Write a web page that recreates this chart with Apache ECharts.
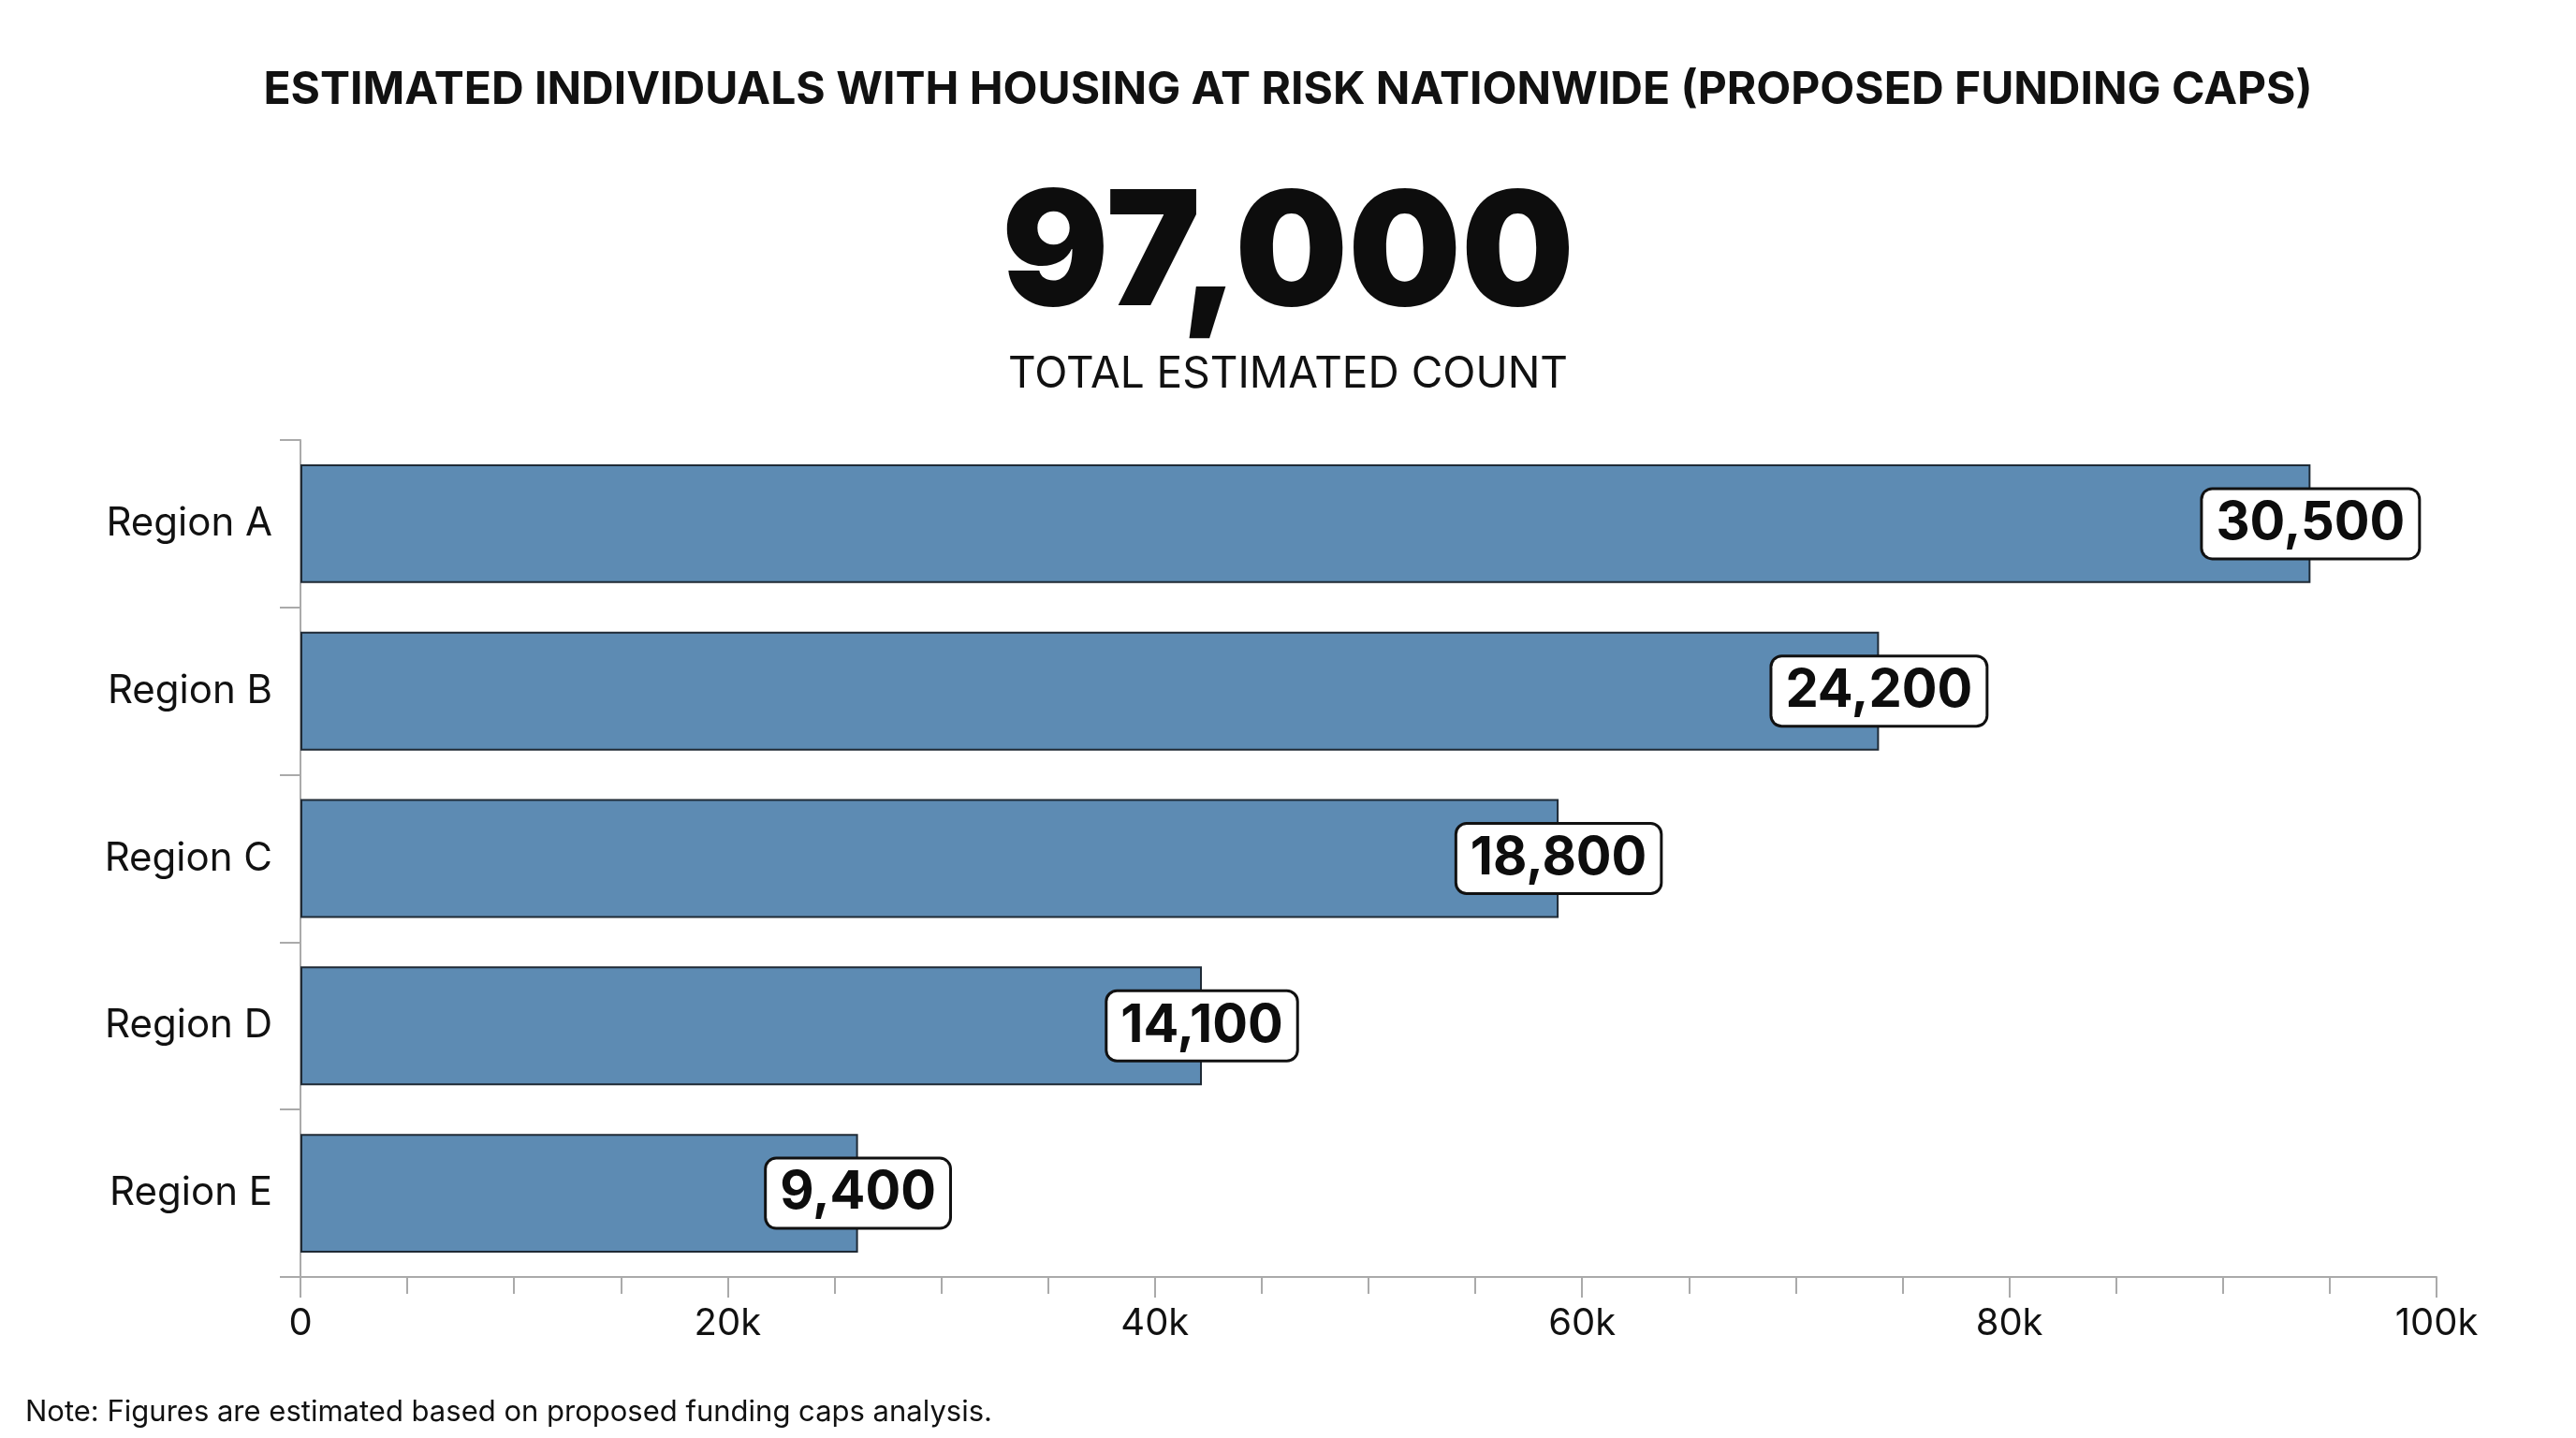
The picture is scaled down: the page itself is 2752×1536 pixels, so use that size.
<!DOCTYPE html>
<html><head><meta charset="utf-8">
<script src="https://cdn.jsdelivr.net/npm/echarts@6/dist/echarts.min.js"></script>
<style>html,body{margin:0;padding:0;background:#fff}#c{width:2752px;height:1536px}</style>
</head><body><div id="c"></div>
<script>
const categories = ['Region A','Region B','Region C','Region D','Region E'];
const barValues = [94100, 73900, 58900, 42200, 26100];
const labelValues = [30500, 24200, 18800, 14100, 9400];
const xTicks = [0, 20000, 40000, 60000, 80000, 100000];
const total = 97000;
const F = 'Inter, "Noto Sans", sans-serif';
const chart = echarts.init(document.getElementById('c'));
chart.setOption({
  backgroundColor: '#ffffff',
  animation: false,
  title: [
    {text: 'ESTIMATED INDIVIDUALS WITH HOUSING AT RISK NATIONWIDE (PROPOSED FUNDING CAPS)', left: 'center', top: 68,
     textStyle: {fontFamily: F, fontSize: 48, fontWeight: 'bold', color: '#111'}},
    {text: total.toLocaleString('en-US'), left: 'center', top: 185,
     textStyle: {fontFamily: F, fontSize: 170, fontWeight: 900, color: '#0d0d0d'}},
    {text: 'TOTAL ESTIMATED COUNT', left: 'center', top: 372,
     textStyle: {fontFamily: F, fontSize: 46, fontWeight: 'normal', color: '#111'}},
    {text: 'Note: Figures are estimated based on proposed funding caps analysis.', left: 22, top: 1488,
     textStyle: {fontFamily: F, fontSize: 31, fontWeight: 'normal', color: '#111'}}
  ],
  grid: {left: 321, right: 149, top: 470, bottom: 172},
  xAxis: {
    type: 'value', min: 0, max: 100000, interval: 20000,
    axisLine: {show: true, lineStyle: {color: '#aaa', width: 2}},
    axisTick: {show: true, length: 22, lineStyle: {color: '#aaa', width: 2}},
    minorTick: {show: true, splitNumber: 4, length: 18, lineStyle: {color: '#aaa', width: 2}},
    splitLine: {show: false},
    axisLabel: {fontFamily: F, fontSize: 40, color: '#111', margin: 30,
      formatter: v => xTicks.includes(v) ? (v === 0 ? '0' : (v/1000) + 'k') : ''}
  },
  yAxis: {
    type: 'category', data: categories, inverse: true,
    axisLine: {show: true, lineStyle: {color: '#aaa', width: 2}},
    axisTick: {show: true, length: 22, lineStyle: {color: '#aaa', width: 2}},
    axisLabel: {fontFamily: F, fontSize: 42, color: '#111', margin: 30}
  },
  series: [{
    type: 'bar', data: barValues, barWidth: '71%',
    itemStyle: {color: '#5d8bb3', borderColor: '#1f2a35', borderWidth: 2},
    label: {
      show: true, position: ['100%', '50%'], align: 'center', verticalAlign: 'middle',
      formatter: p => labelValues[p.dataIndex].toLocaleString('en-US'),
      fontFamily: F, fontSize: 56, fontWeight: 'bold', color: '#0d0d0d',
      backgroundColor: '#fff', borderColor: '#111', borderWidth: 3, borderRadius: 10,
      padding: [10, 14, 6, 14]
    }
  }]
});
</script></body></html>
